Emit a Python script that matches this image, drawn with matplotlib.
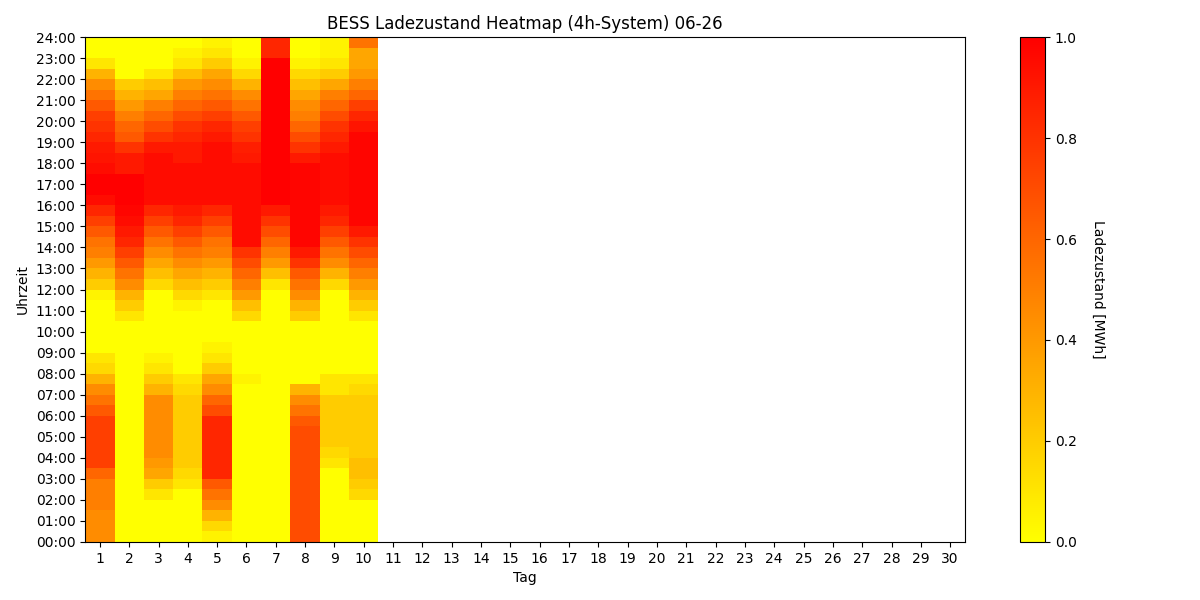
import matplotlib
matplotlib.use("Agg")
import matplotlib.pyplot as plt
import numpy as np

# State of charge per day, half-hour slots starting 00:00 (48 values per day)
days = list(range(1, 31))
day1 = [0.45]*3 + [0.5]*3 + [0.6] + [0.75]*5 + [0.65, 0.55, 0.45, 0.3] + [0.15, 0.1] + [0]*5 + [0.05] + \
       [0.2, 0.3, 0.4, 0.5, 0.55, 0.65] + [0.75, 0.85] + [0.95, 1, 1, 0.95] + [0.92, 0.9] + \
       [0.85, 0.8, 0.75, 0.65, 0.55, 0.45] + [0.3, 0.1] + [0, 0]
day2 = [0]*21 + [0.1] + [0.2, 0.3] + [0.45, 0.55, 0.65, 0.75] + [0.85, 0.9] + [0.95, 0.98, 1, 1, 1] + \
       [0.9, 0.9] + [0.8] + [0.65, 0.6, 0.5, 0.4] + [0.3, 0.2] + [0]*4
day3 = [0]*4 + [0.1, 0.2] + [0.35, 0.4] + [0.45]*6 + [0.3, 0.2] + [0.1, 0.05] + [0]*6 + [0.15, 0.25] + \
       [0.35, 0.45] + [0.55, 0.65] + [0.75, 0.85] + [0.95]*5 + [0.9] + [0.8, 0.7, 0.6, 0.5] + \
       [0.35, 0.25] + [0.1, 0, 0, 0]
day4 = [0]*5 + [0.1, 0.15] + [0.2]*7 + [0.15, 0.1] + [0]*6 + [0.05, 0.15] + \
       [0.25, 0.35, 0.45, 0.55, 0.65, 0.75] + [0.85, 0.9] + [0.95]*4 + [0.9, 0.9] + \
       [0.85, 0.8, 0.7, 0.6, 0.5, 0.4] + [0.25, 0.1, 0.05, 0]
day5 = [0.05, 0.15] + [0.3, 0.45] + [0.55, 0.65] + [0.85]*6 + [0.7, 0.6] + [0.45, 0.35] + [0.2, 0.1] + \
       [0.05] + [0]*4 + [0.1] + [0.2, 0.3, 0.4, 0.5, 0.55, 0.65] + [0.75, 0.85] + [0.95]*6 + \
       [0.9, 0.85] + [0.75, 0.65, 0.55, 0.45] + [0.35, 0.2] + [0.1, 0.05]
day6 = [0]*15 + [0.05] + [0]*5 + [0.15] + [0.25, 0.4] + [0.5, 0.6, 0.7, 0.8] + [0.95]*8 + [0.9, 0.88] + \
       [0.8, 0.75, 0.65, 0.55, 0.45, 0.3] + [0.15, 0.05, 0, 0]
day7 = [0]*24 + [0.1, 0.25] + [0.4, 0.5] + [0.6, 0.7] + [0.8, 0.9] + [1]*14 + [0.85, 0.85]
day8 = [0.7]*11 + [0.65] + [0.55, 0.45] + [0.3] + [0]*6 + [0.2] + [0.3, 0.45] + [0.55, 0.65] + [0.8, 0.9] + \
       [0.98]*8 + [0.9, 0.8] + [0.7, 0.6] + [0.5, 0.45] + [0.35, 0.25] + [0.15, 0.05, 0, 0]
day9 = [0]*7 + [0.1, 0.15] + [0.2]*5 + [0.1, 0.1] + [0]*8 + [0.15, 0.3] + [0.45, 0.55] + [0.65, 0.75] + \
       [0.85, 0.9] + [0.95]*5 + [0.9] + [0.85, 0.8] + [0.7, 0.6] + [0.5, 0.35] + [0.2, 0.1] + [0.05, 0.05]
day10 = [0]*4 + [0.15, 0.2] + [0.25, 0.25] + [0.2]*6 + [0.15, 0.1] + [0]*5 + [0.1] + [0.2, 0.3] + \
        [0.4, 0.5] + [0.6, 0.7] + [0.8, 0.9] + [0.98]*9 + [0.92] + [0.85, 0.75] + [0.6, 0.5] + \
        [0.4, 0.35] + [0.35, 0.55]

soc = np.full((48, 30), np.nan)
for i, d in enumerate([day1, day2, day3, day4, day5, day6, day7, day8, day9, day10]):
    soc[:, i] = d
soc = np.ma.masked_invalid(soc)

fig, ax = plt.subplots(figsize=(12, 6), dpi=100)
fig.subplots_adjust(left=0.071, right=0.804, top=0.938, bottom=0.097)
x_edges = np.arange(0.5, 31.5, 1)
y_edges = np.linspace(0, 24, 49)
mesh = ax.pcolormesh(x_edges, y_edges, soc, cmap="autumn_r", vmin=0, vmax=1)

ax.set_xticks(days)
ax.set_xlim(0.5, 30.5)
ax.set_yticks(range(25))
ax.set_yticklabels([f"{h:02d}:00" for h in range(25)])
ax.set_ylim(0, 24)
ax.set_xlabel("Tag")
ax.set_ylabel("Uhrzeit")
ax.set_title("BESS Ladezustand Heatmap (4h-System) 06-26")

cax = fig.add_axes([0.85, 0.097, 0.021, 0.841])
cb = fig.colorbar(mesh, cax=cax)
cb.set_label("Ladezustand [MWh]", rotation=270, labelpad=20)

fig.savefig("out.png")
